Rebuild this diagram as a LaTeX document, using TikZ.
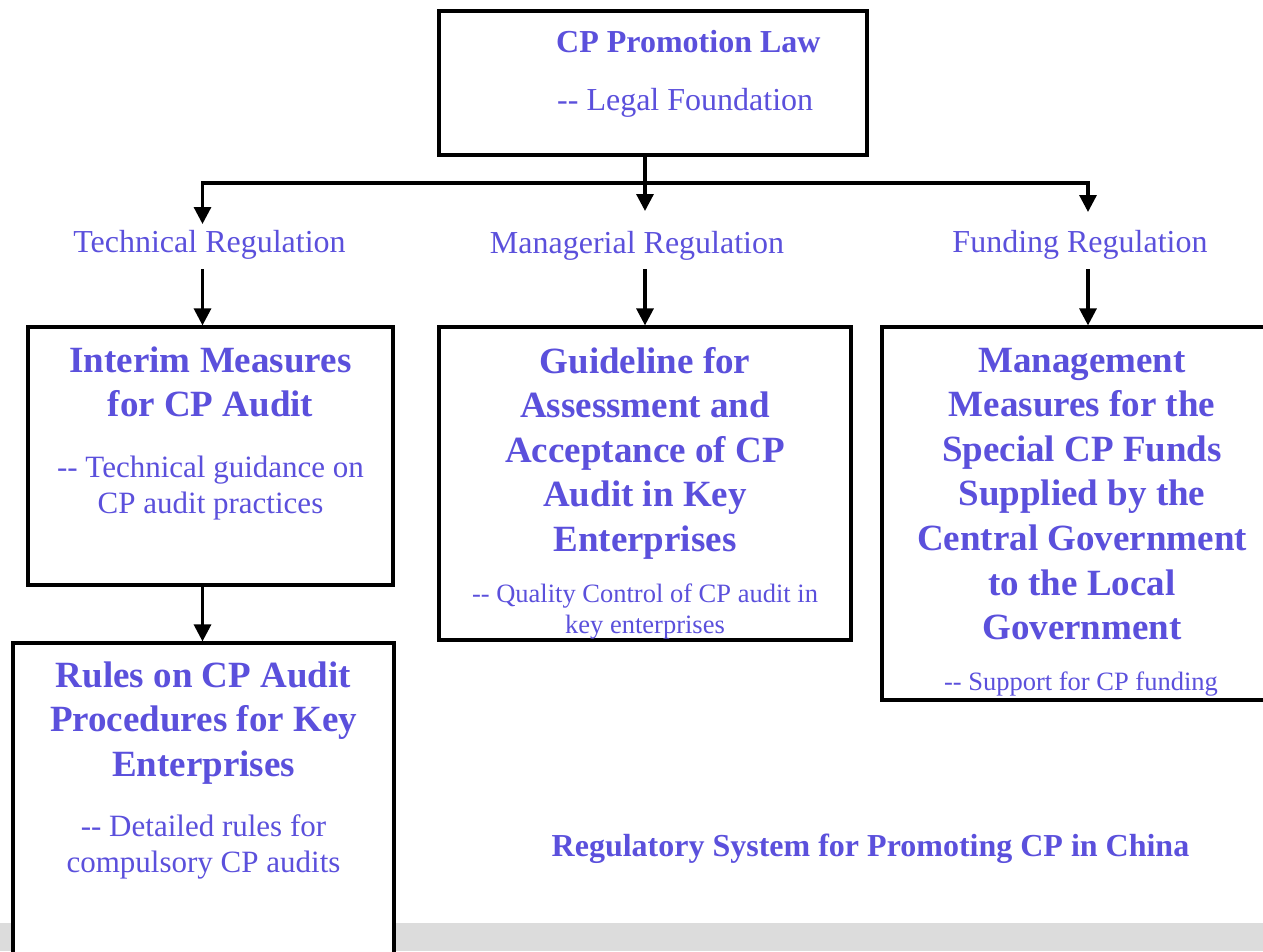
\documentclass[tikz,border=0pt]{standalone}
\usepackage{fontspec}
\setmainfont{Liberation Serif}
\usetikzlibrary{arrows.meta,calc}
\definecolor{cpblue}{RGB}{91,80,220}
\definecolor{bandgray}{RGB}{220,220,220}

\begin{document}
\begin{tikzpicture}[x=1pt,y=-1pt]
\tikzstyle{box} = [rectangle, draw=black, line width=3.2pt, fill=white, inner sep=0pt]
\tikzstyle{boxtitle} = [text=cpblue, inner sep=0pt, anchor=base, text width=400pt, align=flush center,
font=\fontsize{37}{44.6}\selectfont\bfseries]
\tikzstyle{boxsub} = [text=cpblue, inner sep=0pt, anchor=base, text width=400pt, align=flush center,
font=\fontsize{31}{36.5}\selectfont]
\tikzstyle{boxsmall} = [text=cpblue, inner sep=0pt, anchor=base, text width=400pt, align=flush center,
font=\fontsize{26.5}{31}\selectfont]
\tikzstyle{reglabel} = [text=cpblue, inner sep=0pt, anchor=base, font=\fontsize{32}{38}\selectfont]
\tikzstyle{line} = [draw, line width=3.2pt, -{Triangle[length=17pt,width=17pt]}]

\useasboundingbox (0,0) rectangle (1263,951);
\clip (0,0) rectangle (1263,951);
\fill[bandgray] (0,923) rectangle (1263,951);

% top
\node [box, minimum width=428, minimum height=144] (law) at (653,83) {};
\node [reglabel, anchor=base west, font=\fontsize{32}{38}\selectfont\bfseries] (lawtitle) at (556,52) {CP Promotion Law};
\node [reglabel, anchor=base west] (lawsub) at (557,110) {-{}- Legal Foundation};

% regulations
\node [reglabel] (techlabel) at (209.5,252) {Technical Regulation};
\node [reglabel] (mgrlabel) at (637,253) {Managerial Regulation};
\node [reglabel] (fundlabel) at (1080,252) {Funding Regulation};

% boxes
\node [box, minimum width=365, minimum height=258] (interim) at (210.5,456) {};
\node [boxtitle] (interimtitle) at (210.5,372) {Interim Measures\\for CP Audit};
\node [boxsub] (interimsub) at (210.5,477) {-{}- Technical guidance on\\CP audit practices};

\node [box, minimum width=412, minimum height=313] (guide) at (645,483.5) {};
\node [boxtitle] (guidetitle) at (645,373) {Guideline for\\Assessment and\\Acceptance of CP\\Audit in Key\\Enterprises};
\node [boxsmall] (guidesub) at (645,602) {-{}- Quality Control of CP audit in\\key enterprises};

\node [box, minimum width=400, minimum height=373] (funds) at (1082,513.5) {};
\node [boxtitle] (fundstitle) at (1082,372) {Management\\Measures for the\\Special CP Funds\\Supplied by the\\Central Government\\to the Local\\Government};
\node [boxsmall] (fundssub) at (1081,690) {-{}- Support for CP funding};

\node [box, minimum width=381, minimum height=366] (rules) at (203.5,826) {};
\node [boxtitle] (rulestitle) at (203.5,687) {Rules on CP Audit\\Procedures for Key\\Enterprises};
\node [boxsub] (rulessub) at (203.5,836) {-{}- Detailed rules for\\compulsory CP audits};

\node [reglabel, font=\fontsize{32}{38}\selectfont\bfseries] (caption) at (870.5,856) {Regulatory System for Promoting CP in China};

% connectors
\coordinate (busM) at (645,183);
\coordinate (tipT) at (202.5,224);
\coordinate (tipM) at (645,211);
\coordinate (tipF) at (1088,212);
\coordinate (startT) at (202.5,269);
\coordinate (startM) at (645,269);
\coordinate (startF) at (1088,269);

\draw [line] (busM) -| (tipT);
\draw [line] (busM) -| (tipF);
\draw [line] (law.south -| busM) -- (tipM);
\path [line] (startT) -- (interim.north -| startT);
\path [line] (startM) -- (guide.north -| startM);
\path [line] (startF) -- (funds.north -| startF);
\path [line] (interim.south -| startT) -- (rules.north -| startT);
\end{tikzpicture}
\end{document}
